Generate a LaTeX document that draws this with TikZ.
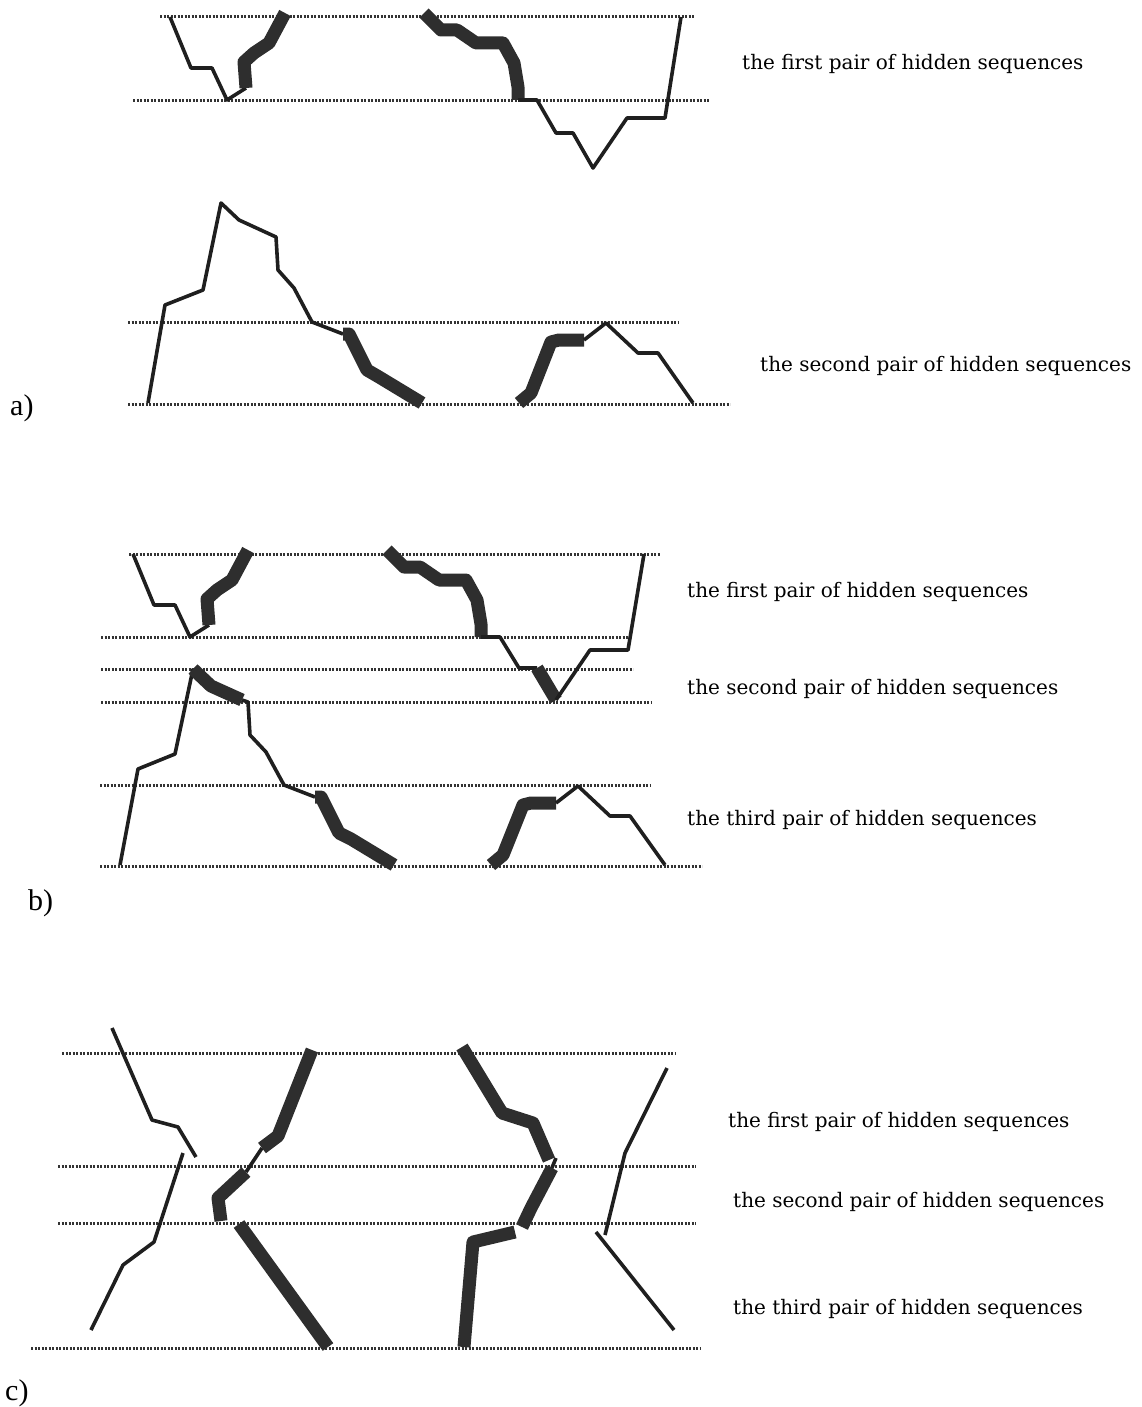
\documentclass[tikz,border=0pt]{standalone}
\usepackage{fontspec}
\setmainfont{DejaVu Serif}
\newfontfamily\partfont{Liberation Serif}
\usetikzlibrary{positioning}

\begin{document}
\begin{tikzpicture}[
  x=1pt, y=-1pt,
  dotline/.style={line width=3pt, dash pattern=on 2.2pt off 1.3pt, black!80},
  thinseq/.style={line width=3.6pt, line join=round, black!88},
  thickseq/.style={line width=13pt, line join=round, black!82},
  seqlabel/.style={anchor=base west, inner sep=0pt, font=\fontsize{20}{24}\selectfont},
  partlabel/.style={anchor=base west, inner sep=0pt, font=\partfont\fontsize{30}{34}\selectfont}
]
  \useasboundingbox (0,0) rectangle (1141,1407);

  % dotted levels
  \foreach \y/\xa/\xb in {17/160/695, 101/133/710, 322/128/678, 404/128/730,
      554/129/660, 637/101/629, 669/101/633, 702/101/651, 785/100/650, 866/100/702,
      1053/62/676, 1166/58/696, 1223/58/696, 1348/31/701}
    \draw[dotline] (\xa,\y) -- (\xb,\y);

  % a) first pair
  \draw[thinseq] (170,17) -- (191,68) -- (212,68) -- (227,100) -- (246,88);
  \draw[thickseq] (246,88) -- (244,62) -- (254,53) -- (269,43) -- (285,13);
  \draw[thickseq] (424,13) -- (441,30) -- (457,30) -- (476,43) -- (503,43)
    -- (514,63) -- (518,87) -- (518,100);
  \draw[thinseq] (518,100) -- (537,100) -- (556,133) -- (573,133) -- (593,168)
    -- (627,118) -- (665,118) -- (681,17);

  % a) second pair
  \draw[thinseq] (148,403) -- (165,305) -- (203,290) -- (221,203) -- (239,220)
    -- (276,237) -- (278,270) -- (294,288) -- (312,322) -- (343,334);
  \draw[thickseq] (343,334) -- (349,334) -- (367,370) -- (379,377) -- (422,403);
  \draw[thickseq] (519,403) -- (531,393) -- (551,342) -- (559,340) -- (584,340);
  \draw[thinseq] (584,340) -- (606,323) -- (638,353) -- (658,353) -- (693,403);

  % b) first and second pair
  \draw[thinseq] (133,554) -- (154,605) -- (175,605) -- (190,637) -- (209,625);
  \draw[thickseq] (209,625) -- (207,599) -- (217,590) -- (232,580) -- (248,550);
  \draw[thickseq] (387,550) -- (404,567) -- (420,567) -- (439,580) -- (466,580)
    -- (477,600) -- (481,624) -- (481,637);
  \draw[thinseq] (481,637) -- (500,637) -- (519,668) -- (537,668);
  \draw[thickseq] (537,668) -- (556,700);
  \draw[thinseq] (556,700) -- (590,650) -- (628,650) -- (644,554);

  % b) second and third pair
  \draw[thinseq] (120,865) -- (138,769) -- (175,754) -- (193,669);
  \draw[thickseq] (193,669) -- (211,686) -- (242,700);
  \draw[thinseq] (242,700) -- (248,702) -- (250,735) -- (266,752) -- (284,785)
    -- (315,797);
  \draw[thickseq] (315,797) -- (321,797) -- (339,833) -- (351,839) -- (394,865);
  \draw[thickseq] (491,865) -- (503,855) -- (523,805) -- (531,803) -- (556,803);
  \draw[thinseq] (556,803) -- (578,786) -- (610,816) -- (630,816) -- (665,865);

  % c) pieces
  \draw[thinseq] (112,1028) -- (152,1120) -- (178,1127) -- (196,1157);
  \draw[thinseq] (183,1153) -- (154,1242) -- (123,1265) -- (91,1330);
  \draw[thickseq] (312,1050) -- (278,1136) -- (262,1148);
  \draw[thinseq] (262,1148) -- (246,1172);
  \draw[thickseq] (246,1172) -- (218,1198) -- (221,1221);
  \draw[thickseq] (239,1224) -- (328,1347);
  \draw[thickseq] (462,1047) -- (502,1113) -- (533,1123) -- (549,1160);
  \draw[thinseq] (556,1158) -- (551,1170);
  \draw[thickseq] (552,1168) -- (531,1208) -- (522,1227);
  \draw[thickseq] (515,1232) -- (473,1242) -- (464,1347);
  \draw[thinseq] (667,1068) -- (625,1153) -- (605,1235);
  \draw[thinseq] (596,1232) -- (674,1330);

  % labels
  \node[seqlabel] (af) at (742,70) {the first pair of hidden sequences};
  \node[seqlabel] (as) at (760,371) {the second pair of hidden sequences};
  \node[seqlabel] (bf) at (687,597) {the first pair of hidden sequences};
  \node[seqlabel] (bs) at (687,694) {the second pair of hidden sequences};
  \node[seqlabel] (bt) at (687,825) {the third pair of hidden sequences};
  \node[seqlabel] (cf) at (728,1127) {the first pair of hidden sequences};
  \node[seqlabel] (cs) at (733,1207) {the second pair of hidden sequences};
  \node[seqlabel] (ct) at (733,1314) {the third pair of hidden sequences};
  \node[partlabel] (pa) at (10,415) {a)};
  \node[partlabel] (pb) at (28,910) {b)};
  \node[partlabel] (pc) at (5,1400) {c)};
\end{tikzpicture}
\end{document}
